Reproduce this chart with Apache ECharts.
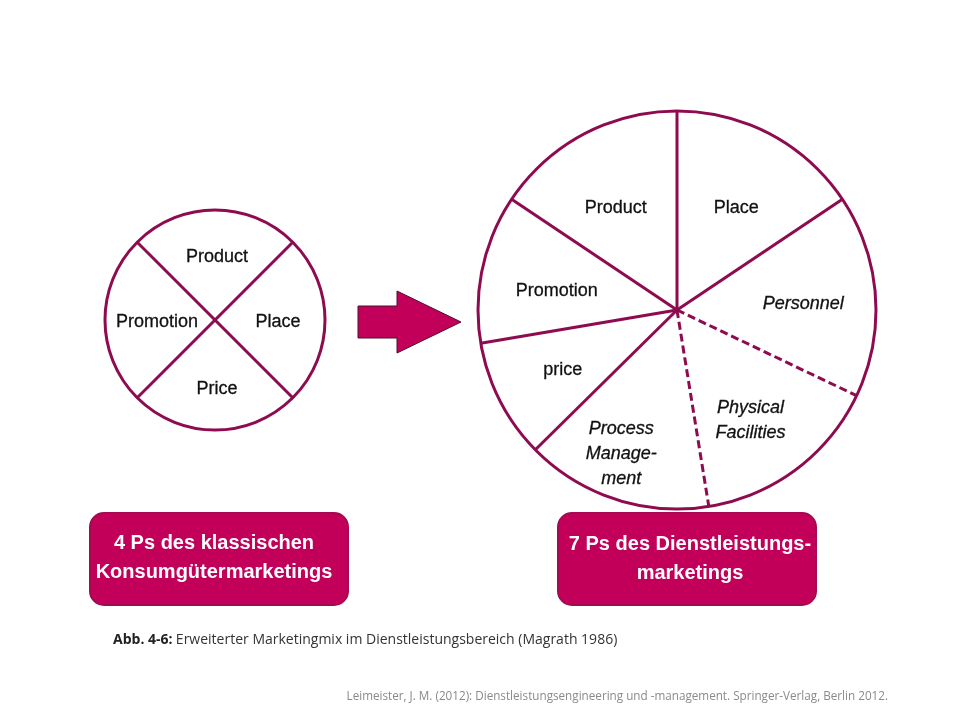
<!DOCTYPE html>
<html>
<head>
<meta charset="utf-8">
<script src="https://cdn.jsdelivr.net/npm/echarts@6/dist/echarts.min.js"></script>
<style>
html, body { margin: 0; padding: 0; background: #fff; }
#main { width: 960px; height: 720px; }
</style>
</head>
<body>
<div id="main"></div>
<script>
const classicNames = ['Product', 'Place', 'Price', 'Promotion']
const classicValues = [90, 90, 90, 90]
const classicOffsets = [[2, -5], [5, 2], [2, 11], [0, 2]]

const serviceNames = ['Place', 'Personnel', 'Physical\nFacilities', 'Process\nManage-\nment', 'price', 'Promotion', 'Product']
const serviceValues = [56.2, 59.3, 55.3, 54.6, 35, 43.4, 56.2]
const serviceOffsets = [[11, -12], [24, 1], [12, 28], [-24, 47], [-23, 13], [-20, 3], [-13, -12]]
const serviceItalic = [false, true, true, true, false, false, false]
// boundary after each slice: dashed around Physical Facilities
const serviceDashed = [false, true, true, false, false, false, false]

const lineColor = '#8e0b4f'
const boxColor = '#c2005a'
const font = '"Liberation Sans", Arial, sans-serif'

function pieSeries(names, values, offsets, center, radius, startAngle, italic) {
    return {
        type: 'pie',
        center: center,
        radius: [0, radius],
        startAngle: startAngle,
        silent: true,
        z: 1,
        label: {
            position: 'inside',
            color: '#111',
            fontFamily: font,
            fontSize: 18,
            lineHeight: 25,
            textBorderColor: '#111',
            textBorderWidth: 0.3
        },
        labelLine: { show: false },
        itemStyle: { color: '#fff', borderWidth: 0 },
        data: names.map((name, i) => ({
            name: name,
            value: values[i],
            label: {
                formatter: name,
                offset: offsets[i],
                fontStyle: italic && italic[i] ? 'italic' : 'normal'
            }
        }))
    }
}

// one polar line per slice boundary, taken from the running sum of the values
function spokes(values, polarIndex, dashed) {
    let sum = 0
    return values.map((v, i) => {
        const at = sum
        sum += v
        return {
            type: 'line',
            coordinateSystem: 'polar',
            polarIndex: polarIndex,
            showSymbol: false,
            silent: true,
            clip: false,
            z: 3,
            lineStyle: {
                color: lineColor,
                width: 3,
                type: dashed && dashed[(i + values.length - 1) % values.length] ? [8, 4] : 'solid'
            },
            data: [[0, at], [1, at]]
        }
    })
}

function total(values) {
    return values.reduce((a, b) => a + b, 0)
}

function angleAxis(polarIndex, values, startAngle) {
    return {
        polarIndex: polarIndex,
        type: 'value',
        min: 0,
        max: total(values),
        startAngle: startAngle,
        z: 2,
        axisLine: { show: true, lineStyle: { color: lineColor, width: 3 } },
        axisTick: { show: false },
        axisLabel: { show: false },
        splitLine: { show: false }
    }
}

function radiusAxis(polarIndex) {
    return {
        polarIndex: polarIndex,
        type: 'value',
        min: 0,
        max: 1,
        axisLine: { show: false },
        axisTick: { show: false },
        axisLabel: { show: false },
        splitLine: { show: false }
    }
}

function box(x, y, w, h) {
    return {
        type: 'rect',
        shape: { x: x, y: y, width: w, height: h, r: 14 },
        style: { fill: boxColor, stroke: '#a30a50', lineWidth: 2 }
    }
}

function boxText(text, x, y) {
    return {
        type: 'text',
        x: x,
        y: y,
        z: 5,
        style: {
            text: text,
            fill: '#fff',
            font: 'bold 20px ' + font,
            align: 'center',
            verticalAlign: 'middle'
        }
    }
}

const chart = echarts.init(document.getElementById('main'))
chart.setOption({
    animation: false,
    backgroundColor: '#fff',
    polar: [
        { center: [215, 320], radius: [0, 110] },
        { center: [677, 310], radius: [0, 199] }
    ],
    angleAxis: [angleAxis(0, classicValues, 135), angleAxis(1, serviceValues, 90)],
    radiusAxis: [radiusAxis(0), radiusAxis(1)],
    series: [
        pieSeries(classicNames, classicValues, classicOffsets, [215, 320], 110, 135),
        pieSeries(serviceNames, serviceValues, serviceOffsets, [677, 310], 199, 90, serviceItalic),
        ...spokes(classicValues, 0),
        ...spokes(serviceValues, 1, serviceDashed)
    ],
    graphic: [
        {
            type: 'polygon',
            shape: { points: [[358, 306], [397, 306], [397, 291], [461, 322], [397, 353], [397, 338], [358, 338]] },
            style: { fill: boxColor, stroke: '#4a1030', lineWidth: 1 }
        },
        box(90, 513, 258, 92),
        box(558, 513, 258, 92),
        boxText('4 Ps des klassischen', 214, 543),
        boxText('Konsumgütermarketings', 214, 572),
        boxText('7 Ps des Dienstleistungs-', 690, 544),
        boxText('marketings', 690, 573),
        {
            type: 'text',
            x: 113,
            y: 640,
            style: {
                text: '{b|Abb. 4-6:} {n|Erweiterter Marketingmix im Dienstleistungsbereich (Magrath 1986)}',
                verticalAlign: 'middle',
                rich: {
                    b: { font: 'bold 14px "Open Sans"', fill: '#222' },
                    n: { font: '14px "Open Sans"', fill: '#333' }
                }
            }
        },
        {
            type: 'text',
            x: 888,
            y: 697,
            style: {
                text: 'Leimeister, J. M. (2012): Dienstleistungsengineering und -management. Springer-Verlag, Berlin 2012.',
                font: '11.7px "Open Sans"',
                fill: '#8a8a8a',
                align: 'right',
                verticalAlign: 'middle'
            }
        }
    ]
})
</script>
</body>
</html>
